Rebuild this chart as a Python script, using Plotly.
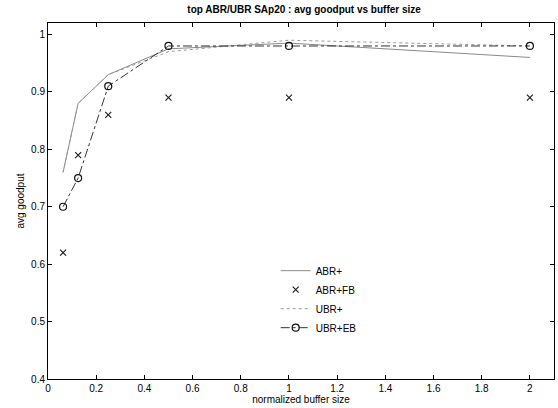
import plotly.graph_objects as go

buffer_size = [0.0625, 0.125, 0.25, 0.5, 1.0, 2.0]
abr_plus = [0.76, 0.88, 0.93, 0.975, 0.985, 0.96]
abr_fb = [0.62, 0.79, 0.86, 0.89, 0.89, 0.89]
ubr_plus = [0.76, 0.88, 0.93, 0.97, 0.99, 0.98]
ubr_eb = [0.70, 0.75, 0.91, 0.98, 0.98, 0.98]

x_ticks = [0, 0.2, 0.4, 0.6, 0.8, 1, 1.2, 1.4, 1.6, 1.8, 2]
x_tick_labels = ["0", "0.2", "0.4", "0.6", "0.8", "1", "1.2", "1.4", "1.6", "1.8", "2"]
y_ticks = [0.4, 0.5, 0.6, 0.7, 0.8, 0.9, 1.0]
y_tick_labels = ["0.4", "0.5", "0.6", "0.7", "0.8", "0.9", "1"]

FONT = "Liberation Sans, Arial, sans-serif"

fig = go.Figure()
fig.add_trace(go.Scatter(x=buffer_size, y=abr_plus, mode="lines", name="ABR+",
                         line=dict(color="#8a8a8a", width=1)))
fig.add_trace(go.Scatter(x=buffer_size, y=abr_fb, mode="markers", name="ABR+FB",
                         marker=dict(symbol="x-thin", size=6, color="#222",
                                     line=dict(color="#222", width=1.2))))
fig.add_trace(go.Scatter(x=buffer_size, y=ubr_plus, mode="lines", name="UBR+",
                         line=dict(color="#9a9a9a", width=1, dash="dot")))
fig.add_trace(go.Scatter(x=buffer_size, y=ubr_eb, mode="lines+markers", name="UBR+EB",
                         line=dict(color="#333", width=1, dash="dashdot"),
                         marker=dict(symbol="circle-open", size=7, color="#111",
                                     line=dict(width=1.2))))

fig.update_layout(
    width=558, height=408,
    margin=dict(l=48, r=4, t=23, b=29),
    paper_bgcolor="white", plot_bgcolor="white",
    font=dict(family=FONT, size=10, color="black"),
    title=dict(text="<b>top ABR/UBR SAp20 : avg goodput vs buffer size</b>",
               x=0.545, xanchor="center", y=0.985, yanchor="top",
               font=dict(size=10, family=FONT, color="black")),
    xaxis=dict(range=[0, 2.1], tickvals=x_ticks, ticktext=x_tick_labels,
               showgrid=False, zeroline=False, showline=True, linecolor="black",
               linewidth=1, mirror="ticks", ticks="inside", ticklen=4,
               tickcolor="black", tickfont=dict(color="black"),
               title=dict(text="normalized buffer size", standoff=2,
                          font=dict(size=10, color="black"))),
    yaxis=dict(range=[0.4, 1.02], tickvals=y_ticks, ticktext=y_tick_labels,
               showgrid=False, zeroline=False, showline=True, linecolor="black",
               linewidth=1, mirror="ticks", ticks="inside", ticklen=4,
               tickcolor="black", tickfont=dict(color="black"),
               title=dict(text="avg goodput", standoff=4,
                          font=dict(size=10, color="black"))),
    legend=dict(x=0.45, y=0.345, xanchor="left", yanchor="top",
                bgcolor="rgba(255,255,255,0)", borderwidth=0,
                font=dict(size=10, color="black"), tracegroupgap=0),
    showlegend=True,
)

fig.write_html("out.html")
